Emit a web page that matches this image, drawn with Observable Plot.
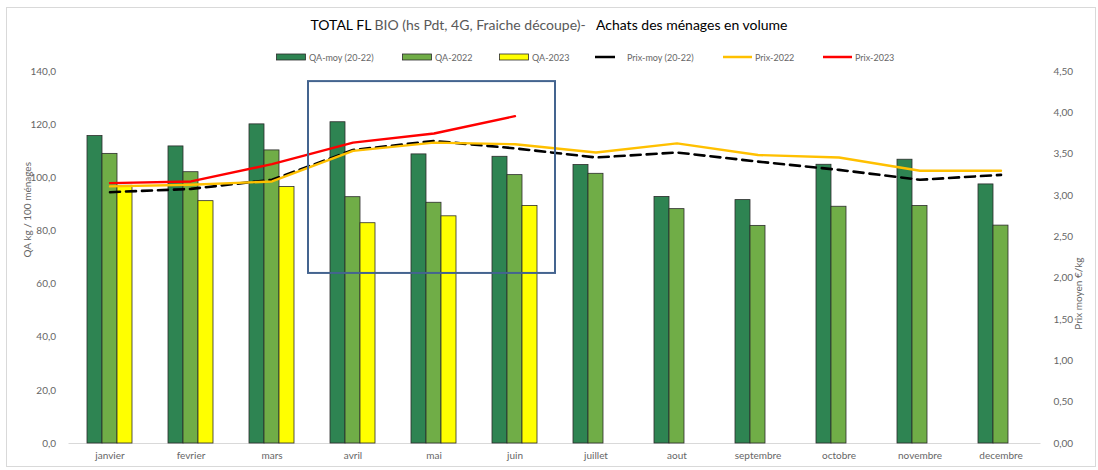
<!DOCTYPE html>
<html><head><meta charset="utf-8">
<script src="https://cdn.jsdelivr.net/npm/d3@7"></script>
<script src="https://cdn.jsdelivr.net/npm/@observablehq/plot@0.6"></script>
<style>
body{margin:0;background:#fff;font-family:Lato,"Open Sans",sans-serif;}
#wrap{position:relative;width:1098px;height:470px;overflow:hidden;background:#fff;}
#frame{position:absolute;left:6px;top:7px;width:1090px;height:460px;border:1px solid #d9d9d9;box-sizing:border-box;pointer-events:none;}
#title{position:absolute;top:16px;left:0;width:1098px;text-align:center;font-size:14px;color:#000;white-space:pre;}
#title .g{color:#595959;}
.leg{position:absolute;top:50px;height:14px;font-size:9px;color:#666;white-space:nowrap;display:flex;align-items:center;}
.leg svg{margin-right:3px;}
#chart{position:absolute;left:0;top:0;}
</style>
</head><body>
<div id="wrap">
  <div id="chart"></div>
  <div id="frame"></div>
  <div id="title"><span>TOTAL FL </span><span class="g">BIO (hs Pdt, 4G, Fraiche découpe)-   </span><span>Achats des ménages en volume</span></div>
  <div id="legend"></div>
</div>
<script>
// ---- data ----
const months = ["janvier","fevrier","mars","avril","mai","juin","juillet","aout","septembre","octobre","novembre","decembre"];
const qaMoy  = [115.7, 111.8, 120.1, 120.9, 108.8, 107.9, 104.8, 92.8, 91.6, 104.9, 106.8, 97.5];
const qa2022 = [109.0, 102.1, 110.3, 92.7, 90.6, 101.0, 101.5, 88.2, 81.9, 89.1, 89.4, 82.0];
const qa2023 = [97.0, 91.2, 96.5, 82.9, 85.5, 89.4];
const prixMoy  = [3.04, 3.08, 3.19, 3.55, 3.66, 3.57, 3.46, 3.52, 3.41, 3.31, 3.19, 3.25];
const prix2022 = [3.11, 3.13, 3.17, 3.54, 3.64, 3.62, 3.52, 3.63, 3.49, 3.46, 3.30, 3.30];
const prix2023 = [3.15, 3.17, 3.38, 3.64, 3.75, 3.96];
const qaTicks = [0, 20, 40, 60, 80, 100, 120, 140];
const prixTicks = [0, 0.5, 1, 1.5, 2, 2.5, 3, 3.5, 4, 4.5];
const seriesNames = ["QA-moy (20-22)", "QA-2022", "QA-2023", "Prix-moy (20-22)", "Prix-2022", "Prix-2023"];
const leftLabel = "QA kg / 100 ménages";
const rightLabel = "Prix moyen €/kg";
const box = {from: "avril", to: "juin", top: 136.2, bottom: 64.0};

// ---- styles ----
const C = {moy: "#2e8452", y22: "#70ad47", y23: "#ffff00", pMoy: "#000000", p22: "#ffc000", p23: "#ff0000"};
const K = 140 / 4.5;

const rows = months.map((m, i) => ({month: m, qaMoy: qaMoy[i], qa2022: qa2022[i], qa2023: qa2023[i],
  prixMoy: prixMoy[i], prix2022: prix2022[i], prix2023: prix2023[i]}));
const rows23 = rows.filter(d => d.qa2023 != null);

const barStroke = {stroke: "#2b2b2b", strokeWidth: 0.8};
const txt = "#666666";
const plot = Plot.plot({
  width: 1098, height: 470,
  marginTop: 71, marginBottom: 27, marginLeft: 68.5, marginRight: 57.5,
  style: {fontFamily: "Lato, 'Open Sans', sans-serif", fontSize: "10px", color: txt, background: "transparent"},
  x: {domain: months, padding: 0, axis: null},
  y: {domain: [0, 140], axis: null},
  marks: [
    Plot.ruleY([0], {stroke: "#d9d9d9", strokeWidth: 1}),
    Plot.barY(rows, {x: "month", y: "qaMoy", fill: C.moy, insetLeft: 18, insetRight: 48, ...barStroke}),
    Plot.barY(rows, {x: "month", y: "qa2022", fill: C.y22, insetLeft: 33, insetRight: 33, ...barStroke}),
    Plot.barY(rows23, {x: "month", y: "qa2023", fill: C.y23, insetLeft: 48, insetRight: 18, ...barStroke}),
    Plot.line(rows, {x: "month", y: d => d.prixMoy * K, stroke: C.pMoy, strokeWidth: 2.6, strokeDasharray: "10,6"}),
    Plot.line(rows, {x: "month", y: d => d.prix2022 * K, stroke: C.p22, strokeWidth: 2.4}),
    Plot.line(rows23, {x: "month", y: d => d.prix2023 * K, stroke: C.p23, strokeWidth: 2.4}),
    Plot.axisX({tickSize: 0, tickPadding: 8, label: null, color: txt}),
    Plot.axisY(qaTicks, {anchor: "left", tickSize: 0, tickPadding: 13, label: null, color: txt,
      tickFormat: d => d.toFixed(1).replace(".", ",")}),
    Plot.axisY(prixTicks.map(p => p * K), {anchor: "right", tickSize: 0, tickPadding: 12.5, label: null, color: txt,
      tickFormat: d => (d / K).toFixed(2).replace(".", ",")}),
    Plot.text([leftLabel], {frameAnchor: "left", dx: -41, rotate: -90, fill: txt, fontSize: 10, text: d => d}),
    Plot.text([rightLabel], {frameAnchor: "right", dx: 38, rotate: -90, fill: txt, fontSize: 10, text: d => d})
  ]
});
document.getElementById("chart").appendChild(plot);

// annotation box, positioned through the plot's own scales
const xs = plot.scale("x"), ys = plot.scale("y");
const bx1 = xs.apply(box.from) - 4, bx2 = xs.apply(box.to) + xs.bandwidth;
const by1 = ys.apply(box.top), by2 = ys.apply(box.bottom);
d3.select(plot).append("rect")
  .attr("x", bx1).attr("y", by1).attr("width", bx2 - bx1).attr("height", by2 - by1)
  .attr("fill", "none").attr("stroke", "#44648f").attr("stroke-width", 2);

// legend
const legPos = [276, 402, 499, 595, 723, 823];
const legKinds = [
  {type: "bar", color: C.moy}, {type: "bar", color: C.y22}, {type: "bar", color: C.y23},
  {type: "line", color: C.pMoy, w: 20, gap: 12}, {type: "line", color: C.p22, w: 29, gap: 3}, {type: "line", color: C.p23, w: 29, gap: 3}
];
const legend = document.getElementById("legend");
seriesNames.forEach((name, i) => {
  const k = legKinds[i];
  const el = document.createElement("div");
  el.className = "leg";
  el.style.left = legPos[i] + "px";
  let sw;
  if (k.type === "bar") {
    sw = `<svg width="30" height="8"><rect x="0.5" y="1" width="29" height="6" fill="${k.color}" stroke="#2b2b2b" stroke-width="0.8"/></svg>`;
  } else {
    sw = `<svg width="${k.w}" height="8" style="margin-right:${k.gap}px"><line x1="0" x2="${k.w}" y1="4" y2="4" stroke="${k.color}" stroke-width="2.5"/></svg>`;
  }
  el.innerHTML = sw + `<span>${name}</span>`;
  legend.appendChild(el);
});
</script>
</body></html>
